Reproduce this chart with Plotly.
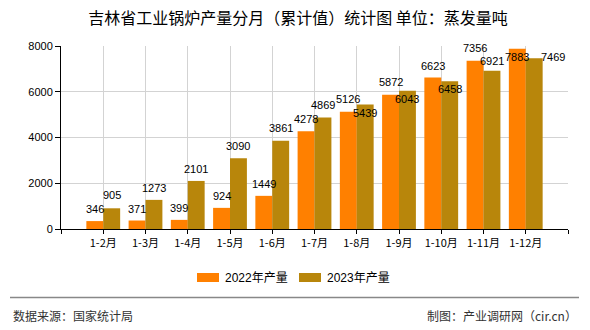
import plotly.graph_objects as go

categories = ["1-2月", "1-3月", "1-4月", "1-5月", "1-6月", "1-7月", "1-8月", "1-9月", "1-10月", "1-11月", "1-12月"]
values_2022 = [346, 371, 399, 924, 1449, 4278, 5126, 5872, 6623, 7356, 7883]
values_2023 = [905, 1273, 2101, 3090, 3861, 4869, 5439, 6043, 6458, 6921, 7469]
y_ticks = [0, 2000, 4000, 6000, 8000]
series_names = ["2022年产量", "2023年产量"]

# label offsets (pixels) for value labels, as in the reference
label_dy_2022 = [12, 12, 12, 12, 12, 12, 13, 13, 12, 13, -8]
label_dy_2023 = [13, 12, 12, 12, 13, 13, -8, -8, -8, 10, 1]
label_dx_2023 = [0, 0, 0, 0, 0, 0, 0, 0, 0, 0, 19]

C2022 = "#FF8000"
C2023 = "#B8860B"
W, H = 590, 330
L, R, T, B = 61, 22, 46, 101
PW, PH = W - L - R, H - T - B

def px_x(p):
    return (p - L) / PW

def px_y(p):
    return (H - B - p) / PH

xs = list(range(1, len(categories) + 1))
fig = go.Figure()
fig.add_trace(go.Bar(x=xs, y=values_2022, name=series_names[0], marker=dict(color=C2022, line=dict(width=0)), showlegend=False))
fig.add_trace(go.Bar(x=xs, y=values_2023, name=series_names[1], marker=dict(color=C2023, line=dict(width=0)), showlegend=False))

lab_font = dict(family="Liberation Sans, Arial", size=11, color="#000")
bar_off = 0.2  # half group offset in category units (bargap 0.2 -> each bar 0.4)
ann = []
for i, (v, dy) in enumerate(zip(values_2022, label_dy_2022)):
    ann.append(dict(x=xs[i] - bar_off, y=v, xref="x", yref="y", text=str(v), showarrow=False,
                    yanchor="middle", xanchor="center", yshift=dy, font=lab_font))
for i, (v, dy, dx) in enumerate(zip(values_2023, label_dy_2023, label_dx_2023)):
    ann.append(dict(x=xs[i] + bar_off, y=v, xref="x", yref="y", text=str(v), showarrow=False,
                    yanchor="middle", xanchor="center", yshift=dy, xshift=dx, font=lab_font))

# legend (manual, to match rectangular swatches)
leg_font = dict(family="Liberation Sans, Noto Sans CJK SC", size=12, color="#000")
shapes = []
for sx, col, name in [(197, C2022, series_names[0]), (299, C2023, series_names[1])]:
    shapes.append(dict(type="rect", xref="paper", yref="paper", x0=px_x(sx), x1=px_x(sx + 22),
                       y0=px_y(282), y1=px_y(273), fillcolor=col, line=dict(width=0)))
    ann.append(dict(x=px_x(sx + 26), y=px_y(277.5), xref="paper", yref="paper", text=name, showarrow=False,
                    xanchor="left", yanchor="middle", font=leg_font))

# footer line and texts
shapes.append(dict(type="line", xref="paper", yref="paper", x0=px_x(10), x1=px_x(579), y0=px_y(297.5), y1=px_y(297.5),
                   line=dict(color="#888888", width=1.5)))
foot_font = dict(family="Noto Sans CJK SC", size=12, color="#333")
ann.append(dict(x=px_x(11), y=px_y(315.5), xref="paper", yref="paper", text="数据来源：国家统计局", showarrow=False,
                xanchor="left", yanchor="middle", font=foot_font))
ann.append(dict(x=px_x(579), y=px_y(315.5), xref="paper", yref="paper", text="制图：产业调研网（cir.cn）", showarrow=False,
                xanchor="right", yanchor="middle", font=foot_font))

fig.update_layout(
    width=W, height=H,
    margin=dict(l=L, r=R, t=T, b=B),
    paper_bgcolor="white", plot_bgcolor="white",
    barmode="group", bargap=0.2, bargroupgap=0,
    title=dict(text="吉林省工业锅炉产量分月（累计值）统计图 单位：蒸发量吨", x=298 / W, xanchor="center",
               y=1 - 18 / H, yanchor="middle", xref="container", yref="container",
               font=dict(family="Noto Sans CJK SC", size=16, color="#000")),
    xaxis=dict(range=[0, len(categories) + 1], tickmode="array", tickvals=list(range(0, len(categories) + 2)),
               ticktext=[""] + categories + [""], showgrid=True, gridcolor="#d3d3d3", gridwidth=1,
               showline=True, linecolor="#000", linewidth=1, ticks="outside", ticklen=4, tickcolor="#000",
               tickfont=dict(family="Noto Sans CJK SC", size=11, color="#000"), zeroline=False, fixedrange=True),
    yaxis=dict(range=[0, 8000], tickmode="array", tickvals=y_ticks, ticktext=[str(t) for t in y_ticks],
               showgrid=True, gridcolor="#d3d3d3", gridwidth=1, showline=True, linecolor="#000", linewidth=1,
               ticks="outside", ticklen=5, tickcolor="#000", zeroline=False,
               tickfont=dict(family="Liberation Sans, Arial", size=11, color="#000")),
    annotations=ann, shapes=shapes,
)
fig.write_html("out.html")
